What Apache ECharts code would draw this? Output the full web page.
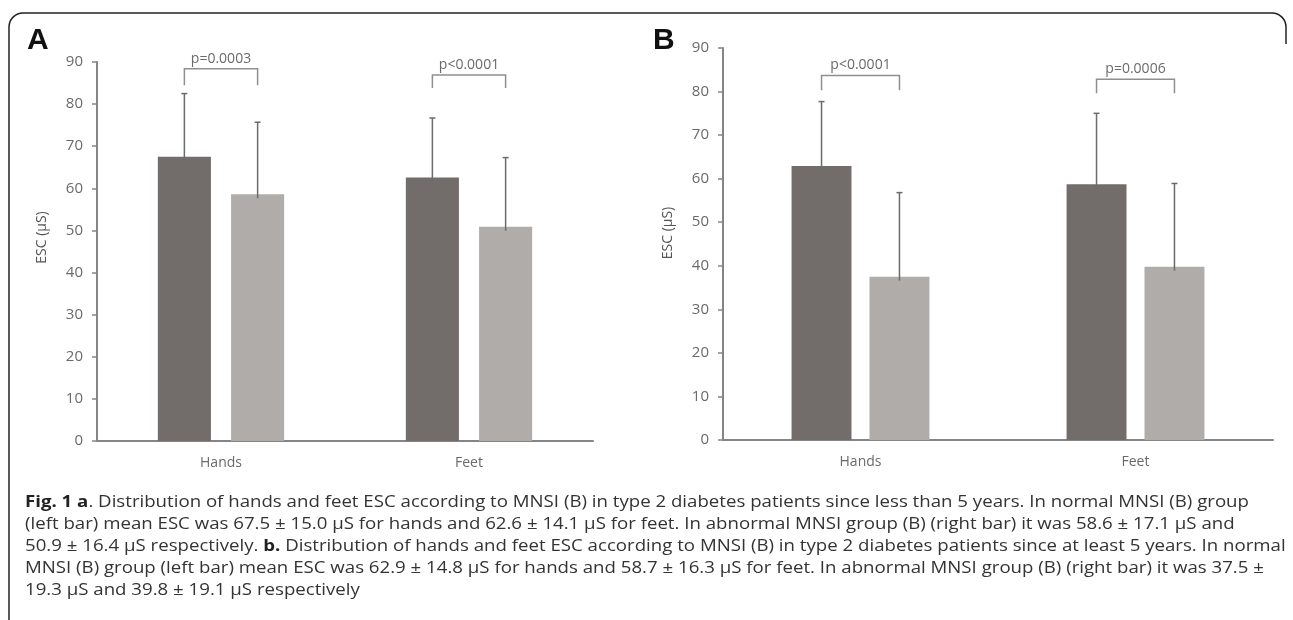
<!DOCTYPE html>
<html>
<head>
<meta charset="utf-8">
<script src="https://cdn.jsdelivr.net/npm/echarts@6/dist/echarts.min.js"></script>
<style>
  html, body { margin: 0; padding: 0; background: #fff; }
  #main { width: 1293px; height: 620px; }
</style>
</head>
<body>
<div id="main"></div>
<script>
// data
const categories = ["Hands", "Feet"];
const yTicks = [0, 10, 20, 30, 40, 50, 60, 70, 80, 90];

// A: diabetes < 5 years
const meanNormalA = [67.5, 62.6];
const sdNormalA = [15.0, 14.1];
const meanAbnormalA = [58.6, 50.9];
const sdAbnormalA = [17.1, 16.4];
const bracketTopA = [88.4, 86.9];
const bracketLegA = [84.5, 83.8];
const pLabelsA = ["p=0.0003", "p<0.0001"];

// B: diabetes >= 5 years
const meanNormalB = [62.9, 58.7];
const sdNormalB = [14.8, 16.3];
const meanAbnormalB = [37.5, 39.8];
const sdAbnormalB = [19.3, 19.1];
const bracketTopB = [83.7, 82.8];
const bracketLegB = [80.3, 79.6];
const pLabelsB = ["p<0.0001", "p=0.0006"];

const captionLines = [
  "{b|Fig. 1 a}. Distribution of hands and feet ESC according to MNSI (B) in type 2 diabetes patients since less than 5 years. In normal MNSI (B) group",
  "(left bar) mean ESC was 67.5 ± 15.0 µS for hands and 62.6 ± 14.1 µS for feet. In abnormal MNSI group (B) (right bar) it was 58.6 ± 17.1 µS and",
  "50.9 ± 16.4 µS respectively. {b|b.} Distribution of hands and feet ESC according to MNSI (B) in type 2 diabetes patients since at least 5 years. In normal",
  "MNSI (B) group (left bar) mean ESC was 62.9 ± 14.8 µS for hands and 58.7 ± 16.3 µS for feet. In abnormal MNSI group (B) (right bar) it was 37.5 ±",
  "19.3 µS and 39.8 ± 19.1 µS respectively"
];

const DARK = "#726d6b";
const LIGHT = "#afaca9";
const AXIS = "#858585";
const TXT = "#6a6a6a";

// bar layout per panel (fraction of band, gap as fraction of bar width)
const layoutA = { bw: 0.214, gap: 0.38 };
const layoutB = { bw: 0.218, gap: 0.30 };

const chart = echarts.init(document.getElementById("main"));

const xAxisOf = (gridIndex) => ({
  type: "category",
  gridIndex,
  data: categories,
  axisLine: { lineStyle: { color: AXIS, width: 2 } },
  axisTick: { show: false },
  axisLabel: { color: TXT, fontSize: 14, fontFamily: "Open Sans", margin: 15 }
});

const yAxisOf = (gridIndex, lift) => ({
  type: "value",
  gridIndex,
  min: yTicks[0],
  max: yTicks[yTicks.length - 1],
  interval: yTicks[1] - yTicks[0],
  name: "ESC (µS)",
  nameLocation: "middle",
  nameRotate: 90,
  nameGap: 48,
  nameTextStyle: { color: "#555", fontSize: 14, fontFamily: "Open Sans", padding: [0, 0, 0, lift] },
  axisLine: { show: true, lineStyle: { color: AXIS, width: 2 } },
  axisTick: { show: true, length: 5, lineStyle: { color: AXIS, width: 1.5 } },
  axisLabel: { color: TXT, fontSize: 15, fontFamily: "Open Sans", margin: 14 },
  splitLine: { show: false }
});

// offset of bar centre from category centre
const barOffset = (api, lay, side) => {
  const band = api.size([1, 0])[0];
  const w = band * lay.bw;
  return (side === 0 ? -1 : 1) * (w + w * lay.gap) / 2;
};

const errorSeries = (idx, means, sds, lay, side) => ({
  type: "custom",
  xAxisIndex: idx,
  yAxisIndex: idx,
  z: 5,
  data: means.map((m, i) => [i, m, sds[i]]),
  renderItem: (params, api) => {
    const i = api.value(0);
    const base = api.coord([i, api.value(1)]);
    const top = api.coord([i, api.value(1) + api.value(2)]);
    const x = base[0] + barOffset(api, lay, side);
    const st = { stroke: "#6b6b6b", lineWidth: 1.5 };
    return {
      type: "group",
      children: [
        { type: "line", shape: { x1: x, y1: base[1] + 4, x2: x, y2: top[1] }, style: st },
        { type: "line", shape: { x1: x - 3, y1: top[1], x2: x + 3, y2: top[1] }, style: st }
      ]
    };
  }
});

const bracketSeries = (idx, tops, legs, labels, lay) => ({
  type: "custom",
  xAxisIndex: idx,
  yAxisIndex: idx,
  z: 5,
  data: tops.map((t, i) => [i, t, legs[i]]),
  renderItem: (params, api) => {
    const i = api.value(0);
    const pTop = api.coord([i, api.value(1)]);
    const pLeg = api.coord([i, api.value(2)]);
    const x1 = pTop[0] + barOffset(api, lay, 0);
    const x2 = pTop[0] + barOffset(api, lay, 1);
    return {
      type: "group",
      children: [
        {
          type: "polyline",
          shape: { points: [[x1, pLeg[1]], [x1, pTop[1]], [x2, pTop[1]], [x2, pLeg[1]]] },
          style: { stroke: "#8f8f8f", lineWidth: 1.5, fill: null }
        },
        {
          type: "text",
          x: pTop[0],
          y: pTop[1] - 3,
          style: {
            text: labels[i],
            fill: TXT,
            fontSize: 14,
            fontFamily: "Open Sans",
            align: "center",
            verticalAlign: "bottom"
          }
        }
      ]
    };
  }
});

const barSeries = (idx, data, color, lay) => ({
  type: "bar",
  xAxisIndex: idx,
  yAxisIndex: idx,
  data,
  barWidth: (lay.bw * 100) + "%",
  barGap: (lay.gap * 100) + "%",
  itemStyle: { color }
});

// frame round the figure: left side, top, top-right corner
const frameStyle = { fill: null, stroke: "#222", lineWidth: 1.5 };
const frame = [
  { type: "line", shape: { x1: 9, y1: 27, x2: 9, y2: 622 }, style: frameStyle },
  { type: "line", shape: { x1: 23, y1: 13, x2: 1272, y2: 13 }, style: frameStyle },
  { type: "line", shape: { x1: 1286, y1: 27, x2: 1286, y2: 44 }, style: frameStyle },
  { type: "arc", shape: { cx: 23, cy: 27, r: 14, startAngle: Math.PI, endAngle: Math.PI * 1.5 }, style: frameStyle },
  { type: "arc", shape: { cx: 1272, cy: 27, r: 14, startAngle: Math.PI * 1.5, endAngle: Math.PI * 2 }, style: frameStyle }
];

const option = {
  animation: false,
  backgroundColor: "#fff",
  grid: [
    { left: 97, top: 62, width: 496, height: 379 },
    { left: 723, top: 48, width: 550, height: 392 }
  ],
  xAxis: [xAxisOf(0), xAxisOf(1)],
  yAxis: [yAxisOf(0, 28), yAxisOf(1, 22)],
  series: [
    barSeries(0, meanNormalA, DARK, layoutA),
    barSeries(0, meanAbnormalA, LIGHT, layoutA),
    errorSeries(0, meanNormalA, sdNormalA, layoutA, 0),
    errorSeries(0, meanAbnormalA, sdAbnormalA, layoutA, 1),
    bracketSeries(0, bracketTopA, bracketLegA, pLabelsA, layoutA),
    barSeries(1, meanNormalB, DARK, layoutB),
    barSeries(1, meanAbnormalB, LIGHT, layoutB),
    errorSeries(1, meanNormalB, sdNormalB, layoutB, 0),
    errorSeries(1, meanAbnormalB, sdAbnormalB, layoutB, 1),
    bracketSeries(1, bracketTopB, bracketLegB, pLabelsB, layoutB)
  ],
  graphic: [
    ...frame,
    {
      type: "text", left: 27, top: 26,
      style: { text: "A", font: "bold 30px 'Liberation Sans', Arial", fill: "#111" }
    },
    {
      type: "text", left: 653, top: 26,
      style: { text: "B", font: "bold 30px 'Liberation Sans', Arial", fill: "#111" }
    },
    // caption: the source figure is a little stretched sideways
    ...captionLines.map((line, k) => ({
      type: "text",
      x: 25,
      y: 502 + k * 22,
      scaleX: 1.13,
      style: {
        text: line,
        fill: "#333",
        fontSize: 16.5,
        fontFamily: "Open Sans",
        verticalAlign: "middle",
        rich: { b: { fontWeight: "bold", fontSize: 16.5, fontFamily: "Open Sans", fill: "#222" } }
      }
    }))
  ]
};

chart.setOption(option);
</script>
</body>
</html>
